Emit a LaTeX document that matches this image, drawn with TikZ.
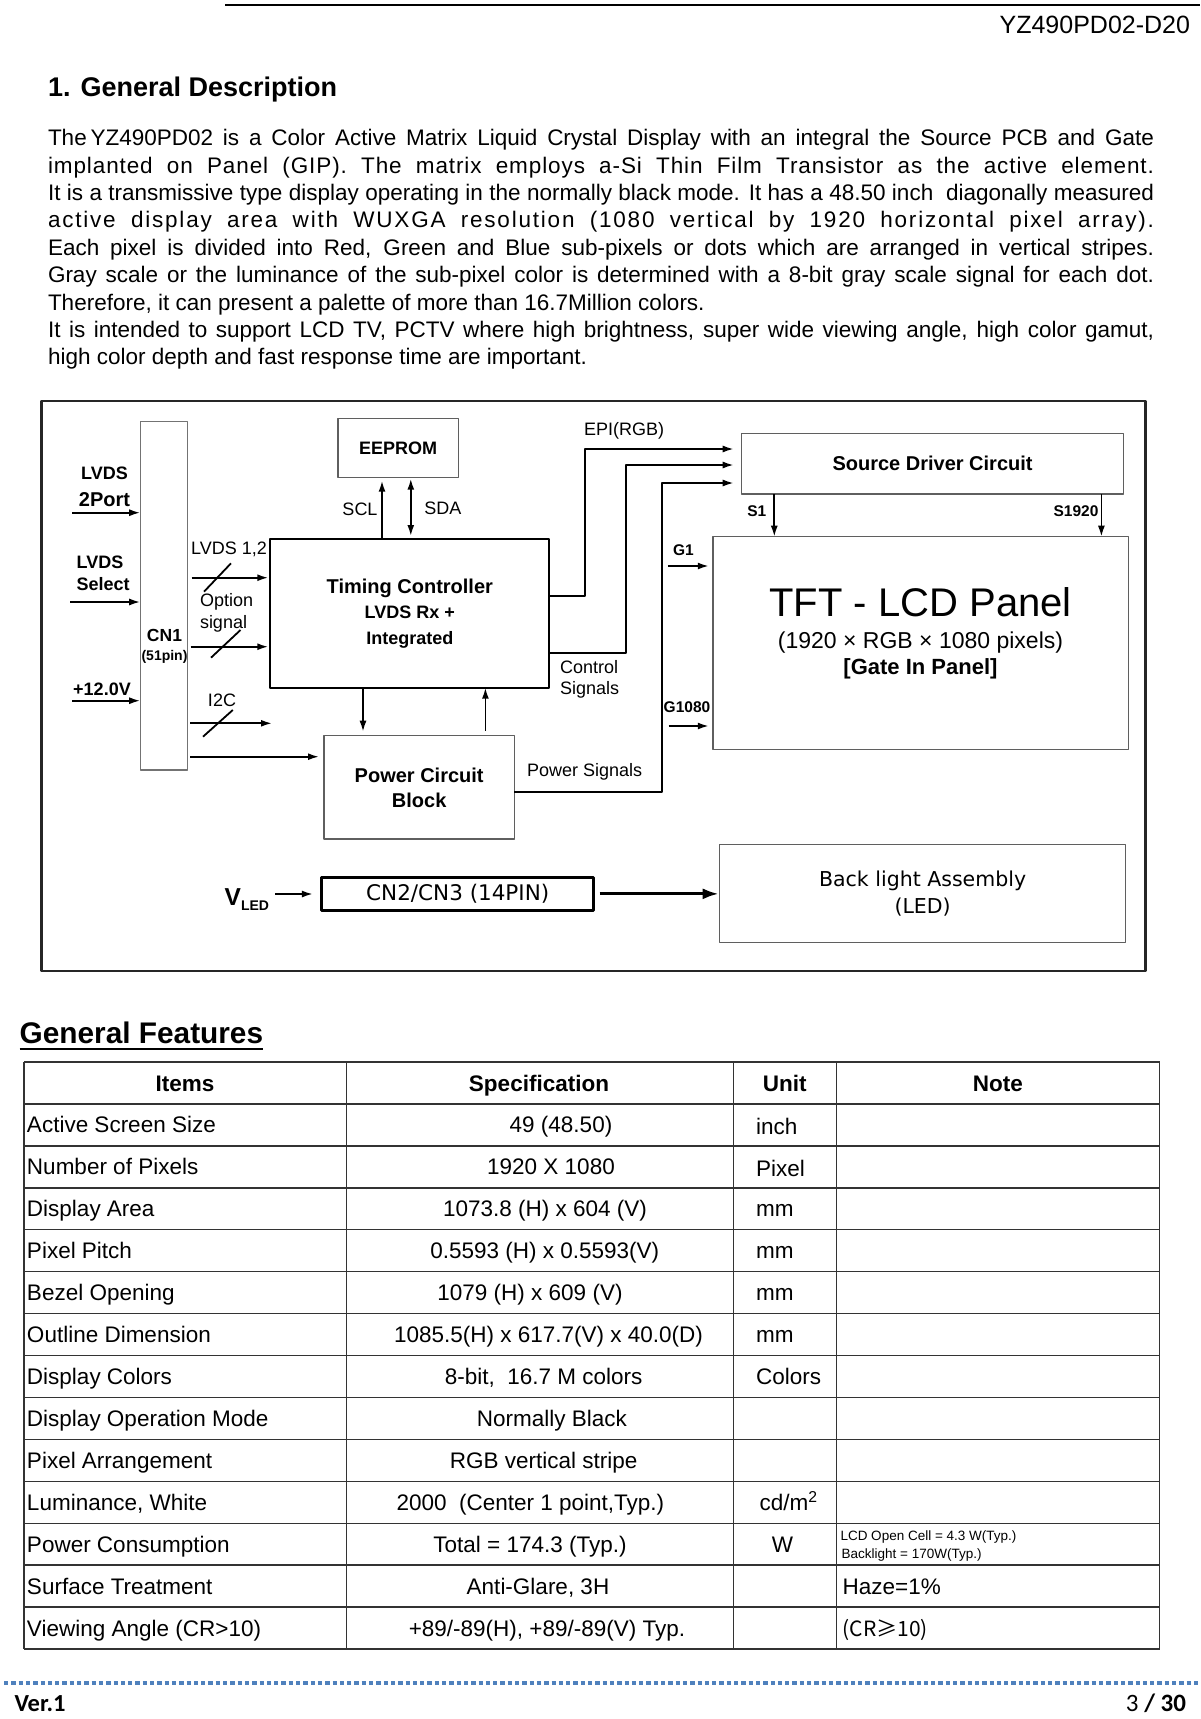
\documentclass[tikz,border=0pt]{standalone}
\usepackage{fontspec}
\setmainfont{Liberation Sans}
\newfontfamily\dvsans{DejaVu Sans}
\newfontfamily\carlito{Carlito}
\newfontfamily\cjkfont{Noto Sans CJK SC}
\usetikzlibrary{arrows.meta}
\definecolor{dotblue}{RGB}{79,129,189}
\definecolor{boxgray}{RGB}{95,95,95}

\begin{document}
\begin{tikzpicture}[x=1pt,y=-1pt,>={Latex[length=11pt,width=7pt]}, line join=round,
	every node/.style={inner sep=0pt,outer sep=0pt},
	txt/.style={font=\fontsize{22.5}{27.4}\selectfont,anchor=base west},
	lbl/.style={font=\fontsize{18}{21.5}\selectfont,align=center},
	blbl/.style={font=\bfseries\fontsize{18}{21.5}\selectfont,align=center},
	blk/.style={draw=boxgray,line width=1.4pt},
	wire/.style={line width=1.8pt},
	tab/.style={line width=1.4pt,black!80},
	cell/.style={font=\fontsize{22.5}{22.5}\selectfont,anchor=base},
	cellb/.style={font=\bfseries\fontsize{22.5}{22.5}\selectfont,anchor=base},
	note/.style={font=\fontsize{13.5}{13.5}\selectfont,anchor=base west}]
	\def\jline#1{\hbox to 1106pt{#1}}
	\fill[white] (0,0) rectangle (1200,1719);
	\useasboundingbox (0,0) rectangle (1200,1719);
	% page head
	\draw[line width=2pt] (225,4.5)--(1200,4.5);
	\node[anchor=base east,font=\fontsize{25}{25}\selectfont] (docid) at (1190,33) {YZ490PD02-D20};
	\node[anchor=base west,font=\bfseries\fontsize{27}{27}\selectfont] (title) at (48,96.7) {1. General Description};
	\node[txt] (l1) at (48,145.6) {\jline{The\,YZ490PD02 is a Color Active Matrix Liquid Crystal Display with an integral the Source PCB and Gate}};
	\node[txt] (l2) at (48,173.0) {\jline{\addfontfeature{LetterSpace=4}implanted on Panel (GIP). The matrix employs a-Si Thin Film Transistor as the active element.}};
	\node[txt] (l3) at (48,200.4) {\jline{It is a transmissive type display operating in the normally black mode. It has a 48.50 inch\ \ diagonally measured}};
	\node[txt] (l4) at (48,227.8) {\jline{\addfontfeature{LetterSpace=8}active display area with WUXGA resolution (1080 vertical by 1920 horizontal pixel array).}};
	\node[txt] (l5) at (48,255.2) {\jline{Each pixel is divided into Red, Green and Blue sub-pixels or dots which are arranged in vertical stripes.}};
	\node[txt] (l6) at (48,282.6) {\jline{Gray scale or the luminance of the sub-pixel color is determined with a 8-bit gray scale signal for each dot.}};
	\node[txt] (l7) at (48,310.0) {Therefore, it can present a palette of more than 16.7Million colors.};
	\node[txt] (l8) at (48,337.4) {\jline{It is intended to support LCD TV, PCTV where high brightness, super wide viewing angle, high color gamut,}};
	\node[txt] (l9) at (48,364.8) {high color depth and fast response time are important.};
	% block diagram
	\draw[line width=2.6pt,black!85] (41.5,401) rectangle (1145.5,971);
	\node[blk,draw=black!55,line width=1.2pt,minimum width=47.1pt,minimum height=348.3pt] (cn1) at (163.75,595.85) {};
	\node[font=\bfseries\fontsize{17.5}{19}\selectfont,align=center] (cn1txt) at (164.5,646) {CN1\\{\fontsize{14}{14}\selectfont(51pin)}};
	\node[blk,draw=black,line width=2pt,minimum width=279pt,minimum height=148.7pt,align=center,font=\bfseries\fontsize{18}{25.5}\selectfont] (tc) at (409.8,613.35) {{\fontsize{20}{25.5}\selectfont Timing Controller}\\LVDS Rx +\\Integrated};
	\node[blk,minimum width=120.2pt,minimum height=59pt,font=\bfseries\fontsize{18}{18}\selectfont] (eeprom) at (398.1,448.2) {EEPROM};
	\node[blk,minimum width=190.3pt,minimum height=103.3pt,align=center,font=\bfseries\fontsize{20}{25}\selectfont] (pwr) at (419.15,787.35) {Power Circuit\\Block};
	\node[blk,minimum width=381.7pt,minimum height=60.7pt,font=\bfseries\fontsize{20}{20}\selectfont] (src) at (932.55,463.65) {Source Driver Circuit};
	\node[blk,minimum width=415.9pt,minimum height=212.6pt] (tft) at (920.75,643) {};
	\node[font=\fontsize{40}{40}\selectfont] (tfttitle) at (920.5,601.7) {TFT - LCD Panel};
	\node[font=\fontsize{23}{23}\selectfont] (tftres) at (920.5,642.3) {(1920 × RGB × 1080 pixels)};
	\node[font=\bfseries\fontsize{22}{22}\selectfont] (tftgip) at (920.5,669.3) {[Gate In Panel]};
	\node[blk,minimum width=405.8pt,minimum height=98pt,align=center,font=\dvsans\fontsize{20.5}{26.6}\selectfont] (bl) at (922.6,893.3) {Back light Assembly\\(LED)};
	\node[draw=black,line width=3pt,minimum width=271.7pt,minimum height=32.3pt,font=\dvsans\fontsize{21.5}{21.5}\selectfont] (cn2) at (457.75,893.85) {CN2/CN3 (14PIN)};
	\node[anchor=base west,font=\bfseries\fontsize{24.5}{24.5}\selectfont] (vled) at (224.7,905.5) {V\raisebox{-4.5pt}{\fontsize{14}{14}\selectfont LED}};
	% inputs to CN1
	\node[blbl,font=\bfseries\fontsize{18}{27}\selectfont] (lvport) at (104.5,486.5) {LVDS\\{\fontsize{20}{27}\selectfont 2Port}};
	\node[blbl,align=left,anchor=west] (lvsel) at (76.7,573.5) {LVDS\\Select};
	\node[blbl] (vin) at (102,689.3) {+12.0V};
	\coordinate (inport) at (72,512.7);
	\coordinate (insel) at (70,602);
	\coordinate (inpwr) at (72,700.7);
	\draw[wire,->] (inport)--(inport -| cn1.west);
	\draw[wire,->] (insel)--(insel -| cn1.west);
	\draw[wire,->] (inpwr)--(inpwr -| cn1.west);
	% CN1 to timing controller
	\coordinate (lvin) at (191.5,577.7);
	\coordinate (optin) at (190.7,646.7);
	\coordinate (i2cin) at (190,723.3);
	\coordinate (i2cend) at (272,723.3);
	\coordinate (pwrin) at (190,756.7);
	\draw[wire,->,shorten >=2pt] (lvin)--(lvin -| tc.west);
	\draw[wire,->,shorten >=2pt] (optin)--(optin -| tc.west);
	\draw[wire,->] (i2cin)--(i2cend);
	\draw[wire,->,shorten >=5pt] (pwrin)--(pwrin -| pwr.west);
	\draw[wire] (204,591.7)--(231,563.3);
	\draw[wire] (211,657.7)--(240.5,630);
	\draw[wire] (203,736.7)--(232.8,710);
	\node[lbl] (lvlbl) at (229,549) {LVDS 1,2};
	\node[lbl,align=left,anchor=west,font=\fontsize{18}{22}\selectfont] (optlbl) at (200,612.6) {Option\\signal};
	\node[lbl] (i2clbl) at (222,700.3) {I2C};
	% eeprom and power block
	\draw[wire,->,shorten >=3pt] (tc.north -| 382,0)--(eeprom.south -| 382,0);
	\draw[wire,<->,shorten >=1pt,shorten <=3pt] (tc.north -| 410.8,0)--(eeprom.south -| 410.8,0);
	\node[lbl] (scl) at (360,509.6) {SCL};
	\node[lbl] (sda) at (442.8,508.5) {SDA};
	\draw[wire,->,shorten >=4pt] (tc.south -| 363,0)--(pwr.north -| 363,0);
	\draw[wire,->,shorten <=5pt] (pwr.north -| 485.4,0)--(tc.south -| 485.4,0);
	% to source driver
	\draw[wire,->,shorten >=8pt] (tc.east |- 0,595.7) -| (585,449)--(src.west |- 0,449);
	\draw[wire,->,shorten >=8pt] (tc.east |- 0,653.3) -| (625.6,465)--(src.west |- 0,465);
	\draw[wire,->,shorten >=8pt] (pwr.east |- 0,791.7) -| (661.8,483)--(src.west |- 0,483);
	\node[lbl] (epi) at (624,430.7) {EPI(RGB)};
	\node[lbl,align=left,anchor=west,font=\fontsize{18}{21}\selectfont] (ctrl) at (560,679) {Control\\Signals};
	\node[lbl,anchor=west] (psig) at (527,771.5) {Power Signals};
	% source and gate lines
	\draw[wire,->] (src.south -| 774.3,0)--(tft.north -| 774.3,0);
	\draw[wire,->] (src.south -| 1101.4,0)--(tft.north -| 1101.4,0);
	\node[font=\bfseries\fontsize{15.5}{15.5}\selectfont] (s1) at (756.8,510.7) {S1};
	\node[font=\bfseries\fontsize{15.5}{15.5}\selectfont] (s1920) at (1076,510.7) {S1920};
	\coordinate (gfirst) at (667.8,566);
	\coordinate (glast) at (668.6,726);
	\draw[wire,->,shorten >=4pt] (gfirst)--(gfirst -| tft.west);
	\draw[wire,->,shorten >=4pt] (glast)--(glast -| tft.west);
	\node[font=\bfseries\fontsize{15.5}{15.5}\selectfont] (g1) at (683.4,550.1) {G1};
	\node[font=\bfseries\fontsize{15.5}{15.5}\selectfont] (g1080) at (687,706.9) {G1080};
	% backlight
	\coordinate (vledout) at (275,894);
	\draw[wire,->,shorten >=9pt] (vledout)--(vledout -| cn2.west);
	\draw[line width=3pt,-{Latex[length=16pt,width=11pt]},shorten <=6pt,shorten >=1pt] (cn2.east)--(cn2.east -| bl.west);
	% general features
	\node[anchor=base west,font=\bfseries\fontsize{29.8}{29.8}\selectfont] (gfhead) at (19.7,1043.6) {General Features};
	\draw[line width=2pt] ([yshift=-5.5pt]gfhead.base west)--([yshift=-5.5pt]gfhead.base east);
	\foreach \k in {0,...,14}
	{\draw[tab] (24.1,{1062+41.93*\k})--(1159.5,{1062+41.93*\k});}
	\foreach \cx in {24.1,346.3,733.2,836.2,1159.5}
	{\draw[tab] (\cx,1062)--(\cx,1649);}
	\node[cellb] (hitems) at (185,1091) {Items};
	\node[cellb] (hspec) at (539,1091) {Specification};
	\node[cellb] (hunit) at (784.7,1091) {Unit};
	\node[cellb] (hnote) at (997.9,1091) {Note};
	\foreach \ry/\itm/\spc/\sx [count=\k] in {
		1132.9/{Active Screen Size}/{49 (48.50)}/561,
		1174.8/{Number of Pixels}/{1920 X 1080}/551,
		1216.8/{Display Area}/{1073.8 (H) x 604 (V)}/545,
		1258.7/{Pixel Pitch}/{0.5593 (H) x 0.5593(V)}/544.7,
		1300.6/{Bezel Opening}/{1079 (H) x 609 (V)}/530,
		1342.6/{Outline Dimension}/{1085.5(H) x 617.7(V) x 40.0(D)}/548.5,
		1384.5/{Display Colors}/{8-bit,\ \ 16.7 M colors}/543.6,
		1426.4/{Display Operation Mode}/{Normally Black}/551.8,
		1468.3/{Pixel Arrangement}/{RGB vertical stripe}/543.6,
		1510.3/{Luminance, White}/{2000\ \ (Center 1 point,Typ.)}/530.4,
		1552.2/{Power Consumption}/{Total = 174.3 (Typ.)}/530,
		1594.1/{Surface Treatment}/{Anti-Glare, 3H}/538,
		1636.0/{Viewing Angle (CR>10)}/{+89/-89(H), +89/-89(V) Typ.}/547}
	{\node[cell,anchor=base west] (item\k) at (27,\ry) {\itm};
	\node[cell] (spec\k) at (\sx,\ry) {\spc};}
	\node[cell,anchor=base west] (u1) at (756,1134.5) {inch};
	\node[cell,anchor=base west] (u2) at (756,1176) {Pixel};
	\node[cell,anchor=base west] (u3) at (756,1216.8) {mm};
	\node[cell,anchor=base west] (u4) at (756,1258.7) {mm};
	\node[cell,anchor=base west] (u5) at (756,1300.6) {mm};
	\node[cell,anchor=base west] (u6) at (756,1342.6) {mm};
	\node[cell,anchor=base west] (u7) at (756,1384.5) {Colors};
	\node[cell,anchor=base west] (u10) at (759.5,1510.3) {cd/m\textsuperscript{2}};
	\node[cell] (u11) at (782.5,1552.2) {W};
	\node[note] (n11a) at (840.5,1540.2) {LCD Open Cell = 4.3 W(Typ.)};
	\node[note] (n11b) at (841.6,1558.8) {Backlight = 170W(Typ.)};
	\node[cell,anchor=base west] (n12) at (842.7,1594.1) {Haze=1\%};
	\node[cell,anchor=base west,font=\cjkfont\fontsize{21}{21}\selectfont] (n13) at (842.7,1636) {(CR≥10)};
	% page foot
	\draw[dotblue,line width=4.3pt,dash pattern=on 4.3pt off 3pt] (4,1683)--(1200,1683);
	\node[anchor=base west,font=\carlito\bfseries\fontsize{24.5}{24.5}\selectfont] (ver) at (14.5,1711.5) {Ver.1};
	\node[anchor=base east,font=\carlito\fontsize{25}{25}\selectfont] (pg) at (1186,1711.5) {3 \textbf{/ 30}};
\end{tikzpicture}
\end{document}
